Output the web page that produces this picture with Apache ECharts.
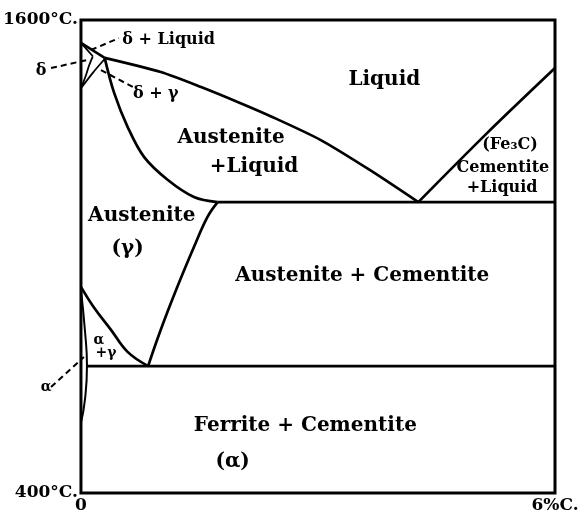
<!DOCTYPE html>
<html>
<head>
<meta charset="utf-8">
<script src="https://cdn.jsdelivr.net/npm/echarts@6/dist/echarts.min.js"></script>
<style>
  html, body { margin: 0; padding: 0; background: #fff; }
  #ironCarbon { width: 585px; height: 520px; }
</style>
</head>
<body>
<div id="ironCarbon"></div>
<script>
// carbon % (x) and temperature °C (y)
const xTicks = [0, 6]
const yTicks = [400, 1600]

const liquidusDelta = [[0, 1542], [0.3, 1504]]
const liquidus = [[0.3, 1504], [1.01, 1468], [1.52, 1430], [2.02, 1389], [2.4, 1356], [3.03, 1296], [3.66, 1219], [4.27, 1138]]
const solidus = [[0.3, 1504], [0.42, 1415], [0.59, 1329], [0.8, 1252], [1.1, 1194], [1.43, 1151], [1.73, 1138]]
const cementiteLiquidus = [[4.27, 1138], [5.14, 1313], [6, 1478]]
const eutectic = [[1.73, 1138], [6, 1138]]
const eutectoid = [[0.076, 722], [6, 722]]
const acm = [[1.73, 1138], [1.6, 1100], [1.43, 1024], [1.22, 923], [1.01, 814], [0.85, 722]]
const a3 = [[0, 923], [0.16, 872], [0.38, 814], [0.59, 758], [0.85, 722]]
const alphaSolvus = [[0, 915], [0.05, 813], [0.076, 722], [0.05, 636], [0, 578]]
const deltaSolidus = [[0, 1542], [0.15, 1508]]
const deltaSolvus = [[0.15, 1508], [0.105, 1486], [0.063, 1460], [0, 1427]]
const gammaDelta = [[0, 1427], [0.15, 1466], [0.3, 1501]]

// dashed pointers to the small regions: [x1, T1, x2, T2]
const leaders = [
    [0.126, 1524, 0.48, 1554],
    [-0.379, 1478, 0.088, 1499],
    [0.253, 1473, 0.657, 1430],
    [-0.379, 669, 0.038, 745],
]

// region names
const regionLabels = [
    ['Liquid', 3.84, 1448],
    ['Austenite', 1.9, 1301],
    ['+Liquid', 2.19, 1227],
    ['Austenite', 0.77, 1103],
    ['(γ)', 0.59, 1019],
    ['Austenite + Cementite', 3.56, 950],
    ['Ferrite + Cementite', 2.84, 570],
    ['(α)', 1.92, 479],
]
const minorLabels = [
    ['(Fe₃C)', 5.43, 1283],
    ['Cementite', 5.34, 1225],
    ['+Liquid', 5.33, 1174],
    ['δ + Liquid', 1.11, 1549],
    ['δ', -0.505, 1471],
    ['δ + γ', 0.947, 1412],
]
const tinyLabels = [
    ['α', 0.227, 788],
    ['+γ', 0.316, 753],
    ['α', -0.442, 669],
]

const font = 'DejaVu Serif'

function boundary(data, smooth, width) {
    return {
        type: 'line',
        data: data,
        smooth: smooth,
        symbol: 'none',
        clip: false,
        lineStyle: { color: '#000', width: width || 2.7 },
    }
}

function textSeries(list, size) {
    return {
        type: 'scatter',
        symbolSize: 0,
        clip: false,
        itemStyle: { opacity: 1 },
        data: list.map(l => ({ name: l[0], value: [l[1], l[2]] })),
        label: {
            show: true,
            position: 'inside',
            formatter: '{b}',
            color: '#000',
            opacity: 1,
            fontFamily: font,
            fontWeight: 'bold',
            fontSize: size,
        },
    }
}

const series = [
    boundary(liquidusDelta, false, 2.5),
    boundary(liquidus, 0.25),
    boundary(solidus, 0.35),
    boundary(cementiteLiquidus, 0.3),
    boundary(eutectic, false),
    boundary(eutectoid, false),
    boundary(acm, 0.4),
    boundary(a3, 0.4),
    boundary(alphaSolvus, 0.5, 2),
    boundary(deltaSolidus, false, 1.8),
    boundary(deltaSolvus, 0.4, 1.8),
    boundary(gammaDelta, 0.3, 1.8),
    {
        type: 'custom',
        clip: false,
        data: leaders,
        renderItem: (params, api) => {
            const p0 = api.coord([api.value(0), api.value(1)])
            const p1 = api.coord([api.value(2), api.value(3)])
            return {
                type: 'line',
                shape: { x1: p0[0], y1: p0[1], x2: p1[0], y2: p1[1] },
                style: { stroke: '#000', lineWidth: 2, lineDash: [6, 4] },
            }
        },
    },
]
series.push(textSeries(regionLabels, 20))
series.push(textSeries(minorLabels, 16))
series.push(textSeries(tinyLabels, 14))

const chart = echarts.init(document.getElementById('ironCarbon'), null, { renderer: 'canvas' })
chart.setOption({
    animation: false,
    backgroundColor: '#fff',
    grid: {
        left: 80,
        right: 30,
        top: 20,
        bottom: 27,
        show: true,
        borderColor: '#000',
        borderWidth: 3,
    },
    xAxis: {
        type: 'value',
        min: xTicks[0],
        max: xTicks[1],
        interval: 6,
        axisLine: { show: false },
        axisTick: { show: false },
        splitLine: { show: false },
        axisLabel: {
            color: '#000',
            fontFamily: font,
            fontWeight: 'bold',
            fontSize: 17,
            margin: 4,
            formatter: v => v === 0 ? '0' : v + '%C.',
        },
    },
    yAxis: {
        type: 'value',
        min: yTicks[0],
        max: yTicks[1],
        interval: 1200,
        axisLine: { show: false },
        axisTick: { show: false },
        splitLine: { show: false },
        axisLabel: {
            color: '#000',
            fontFamily: font,
            fontWeight: 'bold',
            fontSize: 17,
            margin: 3,
            formatter: v => v + '°C.',
        },
    },
    series: series,
})
</script>
</body>
</html>
